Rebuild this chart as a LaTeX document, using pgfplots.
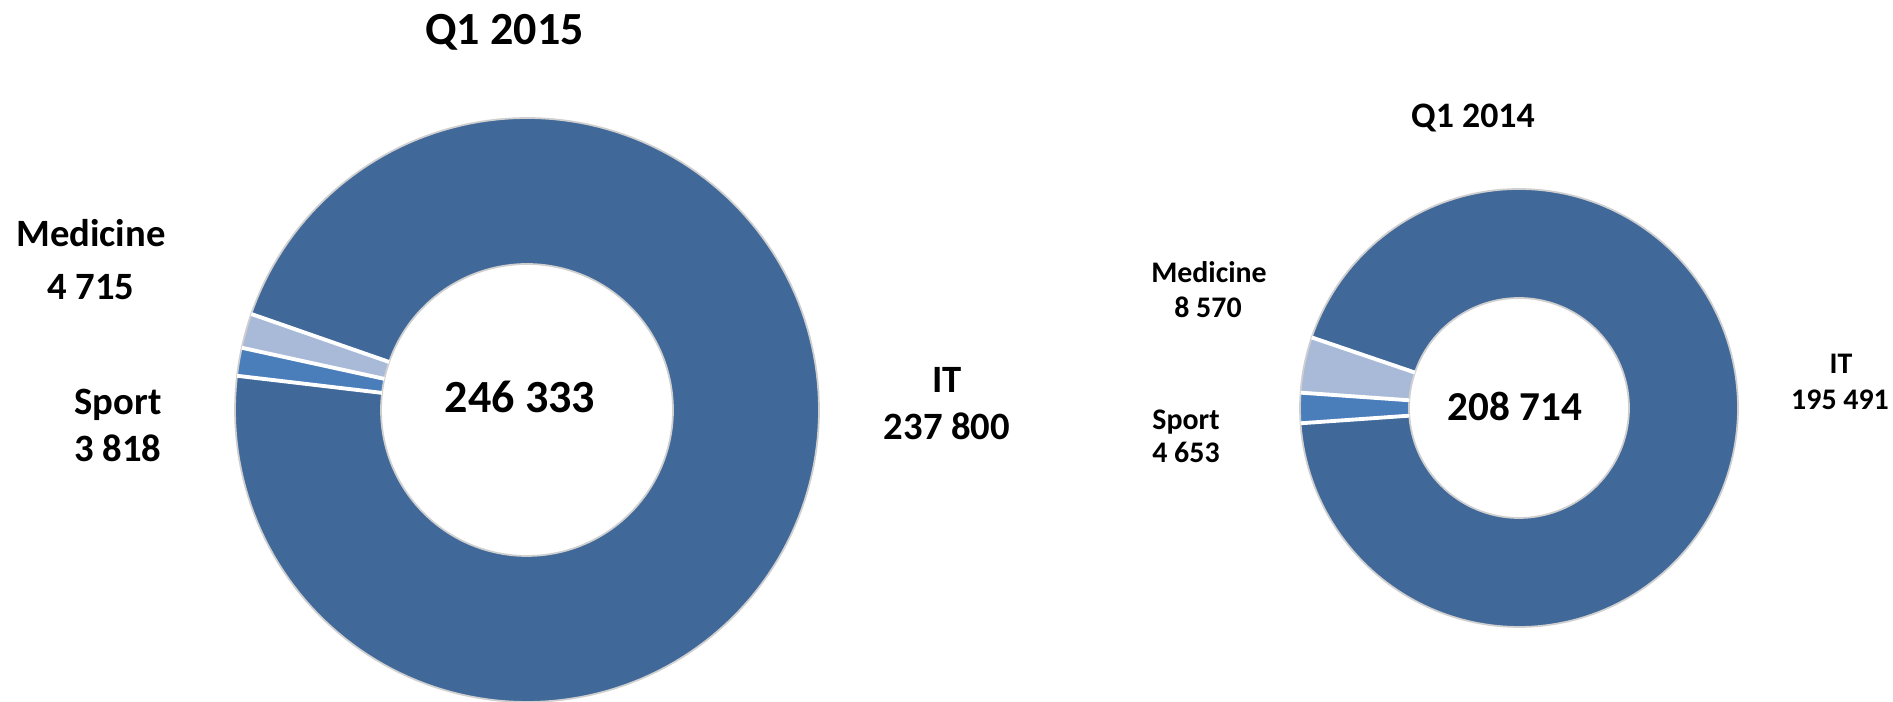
\documentclass[border=0pt]{standalone}
\usepackage{fontspec}
\setmainfont{Carlito}
\usepackage{pgfplots}
\pgfplotsset{compat=1.18}

\definecolor{itblue}{HTML}{406899}
\definecolor{sportblue}{HTML}{4A7EBB}
\definecolor{medblue}{HTML}{A9BAD8}
\definecolor{rimgray}{HTML}{CFCFCF}

% values
\def\LIT{237800}\def\LMed{4715}\def\LSport{3818}
\def\RIT{195491}\def\RMed{8570}\def\RSport{4653}

% slice angles (counter-clockwise, degrees), Medicine first
\edef\LTot{\fpeval{\LIT+\LMed+\LSport}}
\edef\LaA{160.8}
\edef\LaB{\fpeval{round(\LaA+360*\LMed/\LTot,3)}}
\edef\LaC{\fpeval{round(\LaB+360*\LSport/\LTot,3)}}
\edef\LaD{\fpeval{round(\LaA+360,3)}}
\edef\RTot{\fpeval{\RIT+\RMed+\RSport}}
\edef\RaA{161.2}
\edef\RaB{\fpeval{round(\RaA+360*\RMed/\RTot,3)}}
\edef\RaC{\fpeval{round(\RaB+360*\RSport/\RTot,3)}}
\edef\RaD{\fpeval{round(\RaA+360,3)}}

% #1 cx, #2 cy, #3 R, #4 from, #5 to, #6 colour
\newcommand\slice[6]{%
  \addplot[fill=#6, draw=none, domain=#4:#5, samples=180, variable=\t]
    ({#1+#3*cos(\t)},{#2+#3*sin(\t)}) -- (axis cs:#1,#2) -- cycle;
}
% #1 cx, #2 cy, #3 r, #4 R, #5 angle
\newcommand\sep[5]{%
  \addplot[white, line width=1.1pt, domain=#3:#4, samples=2, variable=\t]
    ({#1+\t*cos(#5)},{#2+\t*sin(#5)});
}
% #1 cx, #2 cy, #3 R, #4 options
\newcommand\ring[4]{%
  \addplot[#4, domain=0:360, samples=200, variable=\t]
    ({#1+#3*cos(\t)},{#2+#3*sin(\t)}) -- cycle;
}

\begin{document}
\begin{tikzpicture}
\begin{axis}[
  scale only axis,
  width=189.3mm, height=70.2mm,
  xmin=0, xmax=1893, ymin=0, ymax=702,
  hide axis,
]
% ---- Q1 2015 ----
\slice{527}{292}{292}{\LaA}{\LaB}{medblue}
\slice{527}{292}{292}{\LaB}{\LaC}{sportblue}
\slice{527}{292}{292}{\LaC}{\LaD}{itblue}
\ring{527}{292}{292}{draw=rimgray, line width=0.5pt}
\ring{527}{292}{146}{fill=white, draw=rimgray, line width=0.5pt}
\sep{527}{292}{146}{292}{\LaA}
\sep{527}{292}{146}{292}{\LaB}
\sep{527}{292}{146}{292}{\LaC}

% ---- Q1 2014 ----
\slice{1519}{294}{219}{\RaA}{\RaB}{medblue}
\slice{1519}{294}{219}{\RaB}{\RaC}{sportblue}
\slice{1519}{294}{219}{\RaC}{\RaD}{itblue}
\ring{1519}{294}{219}{draw=rimgray, line width=0.5pt}
\ring{1519}{294}{110}{fill=white, draw=rimgray, line width=0.5pt}
\sep{1519}{294}{110}{219}{\RaA}
\sep{1519}{294}{110}{219}{\RaB}
\sep{1519}{294}{110}{219}{\RaC}

% ---- text, left ----
\begin{scope}[every node/.style={anchor=base, font=\bfseries\fontsize{11}{11}\selectfont}]
\node[font=\bfseries\fontsize{13.1}{13.1}\selectfont] at (axis cs:504.5,657) {Q1 2015};
\node at (axis cs:91,455) {Medicine};
\node at (axis cs:91,402) {4 715};
\node at (axis cs:118,287) {Sport};
\node at (axis cs:118,240) {3 818};
\node at (axis cs:947,309) {IT};
\node at (axis cs:947,262) {237 800};
\node[font=\bfseries\fontsize{13.1}{13.1}\selectfont] at (axis cs:520,289) {246 333};
\end{scope}

% ---- text, right ----
\begin{scope}[every node/.style={anchor=base, font=\bfseries\fontsize{8.5}{8.5}\selectfont}]
\node[font=\bfseries\fontsize{10.2}{10.2}\selectfont] at (axis cs:1473,574) {Q1 2014};
\node at (axis cs:1209,419) {Medicine};
\node at (axis cs:1208,384) {8 570};
\node at (axis cs:1186,272) {Sport};
\node at (axis cs:1186,239) {4 653};
\node at (axis cs:1841,328) {IT};
\node at (axis cs:1840,292) {195 491};
\node[font=\bfseries\fontsize{11.7}{11.7}\selectfont] at (axis cs:1515,281) {208 714};
\end{scope}
\end{axis}
\pgfresetboundingbox
\path[use as bounding box] (current axis.south west) rectangle (current axis.north east);
\end{tikzpicture}
\end{document}
